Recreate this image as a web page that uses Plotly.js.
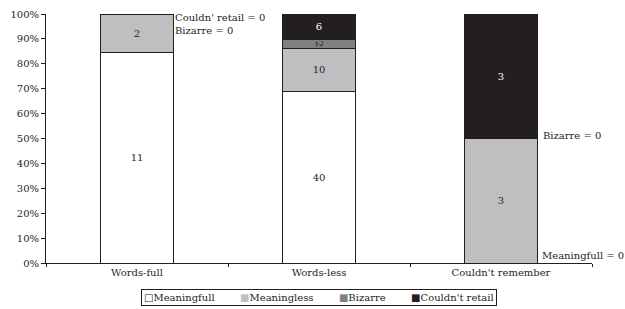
<!DOCTYPE html>
<html>
<head>
<meta charset="utf-8">
<script src="https://cdn.plot.ly/plotly-3.0.1.min.js"></script>
<style>html,body{margin:0;padding:0;background:#fff;}#chart{width:625px;height:309px;}</style>
</head>
<body>
<div id="chart"></div>
<script>
// ---- data ----
var categories = ["Words-full", "Words-less", "Couldn't remember"];
var seriesNames = ["Meaningfull", "Meaningless", "Bizarre", "Couldn't retail"];
var meaningfull = [11, 40, 0];
var meaningless = [2, 10, 3];
var bizarre = [0, 2, 0];
var couldntRetail = [0, 6, 3];
var yTickVals = [0, 10, 20, 30, 40, 50, 60, 70, 80, 90, 100];
var yTickText = ["0%", "10%", "20%", "30%", "40%", "50%", "60%", "70%", "80%", "90%", "100%"];

var colors = ["#ffffff", "#bfbfc1", "#808080", "#231f20"];
var textColors = ["#231f20", "#231f20", "#231f20", "#ffffff"];
var FONT = "DejaVu Serif";
var FS = 10;
var INK = '#231f20';

var series = [meaningfull, meaningless, bizarre, couldntRetail];
var totals = categories.map(function(_, i){
  return series.reduce(function(s, arr){ return s + arr[i]; }, 0);
});

var traces = series.map(function(arr, k){
  return {
    type: 'bar',
    name: seriesNames[k],
    x: categories,
    y: arr.map(function(v, i){ return v / totals[i] * 100; }),
    text: arr.map(function(v){ return v > 0 ? String(v) : ''; }),
    textposition: 'inside',
    insidetextanchor: 'middle',
    constraintext: 'none',
    textfont: {family: FONT, size: FS, color: textColors[k]},
    marker: {color: colors[k], line: {color: INK, width: 1}},
    width: 0.4,
    hoverinfo: 'none',
    showlegend: false
  };
});

// legend built as text from series names and colors
var legendParts = seriesNames.map(function(n, k){
  var sq = k === 0 ? '<span style="color:' + INK + '">□</span>' :
    '<span style="color:' + colors[k] + '">■</span>';
  return sq + n;
});

var layout = {
  width: 625, height: 309,
  margin: {l: 46, r: 33, t: 14, b: 46},
  paper_bgcolor: '#ffffff', plot_bgcolor: '#ffffff',
  barmode: 'stack',
  showlegend: false,
  font: {family: FONT, size: FS, color: INK},
  xaxis: {
    type: 'category',
    showgrid: false, zeroline: false,
    showline: true, linecolor: INK, linewidth: 1,
    ticks: 'outside', tickson: 'boundaries', ticklen: 3, tickcolor: INK,
    tickfont: {family: FONT, size: FS, color: INK},
    range: [-0.5, 2.5]
  },
  yaxis: {
    range: [0, 100],
    tickmode: 'array',
    tickvals: yTickVals,
    ticktext: yTickText,
    showgrid: false, zeroline: false,
    showline: true, linecolor: INK, linewidth: 1,
    ticks: 'outside', ticklen: 4, tickcolor: INK,
    tickfont: {family: FONT, size: FS, color: INK}
  },
  annotations: [
    {xref: 'x', yref: 'y', x: 0.2, y: 100, xanchor: 'left', yanchor: 'top', xshift: 1, yshift: 3,
     align: 'left', borderpad: 0,
     text: "Couldn' retail = 0<br>Bizarre = 0", showarrow: false, font: {family: FONT, size: FS, color: INK}},
    {xref: 'x', yref: 'y', x: 2.2, y: 50, xanchor: 'left', yanchor: 'middle', xshift: 4, yshift: 3,
     text: "Bizarre = 0", showarrow: false, font: {family: FONT, size: FS, color: INK}},
    {xref: 'x', yref: 'y', x: 2.2, y: 0, xanchor: 'left', yanchor: 'bottom', xshift: 3, yshift: 0,
     text: "Meaningfull = 0", showarrow: false, font: {family: FONT, size: FS, color: INK}},
    {xref: 'paper', yref: 'paper', x: 0.5, y: -0.105, xanchor: 'center', yanchor: 'top',
     text: legendParts.join('&nbsp;&nbsp;&nbsp;&nbsp;&nbsp;&nbsp;&nbsp;&nbsp;'), showarrow: false,
     bordercolor: INK, borderwidth: 1, borderpad: 2, bgcolor: '#ffffff',
     font: {family: FONT, size: FS, color: INK}}
  ]
};

Plotly.newPlot('chart', traces, layout, {staticPlot: true, displayModeBar: false});
</script>
</body>
</html>
